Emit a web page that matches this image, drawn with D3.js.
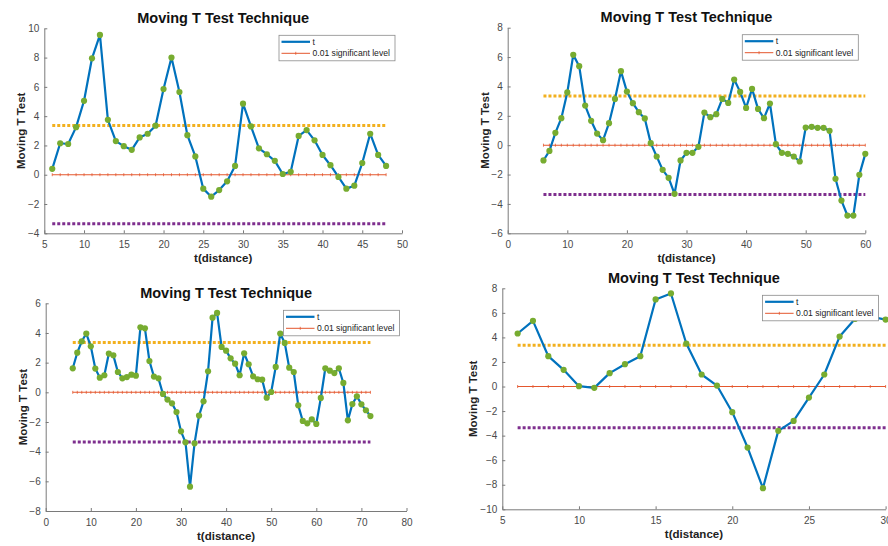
<!DOCTYPE html>
<html>
<head>
<meta charset="utf-8">
<script src="https://cdn.jsdelivr.net/npm/d3@7"></script>
<style>
  body { margin: 0; background: #fff; }
  svg { display: block; font-family: "Liberation Sans", Arial, sans-serif; }
  .axis path, .axis line { stroke: #7a7a7a; }
  .axis text { fill: #4a4a4a; font-size: 10px; }
</style>
</head>
<body>
<div id="chart"></div>
<script>
// data (t values start at x = 6 and step by 1)
const startX = 6;
const t1 = [0.4, 2.15, 2.1, 3.25, 5.05, 7.95, 9.55, 3.75, 2.3, 1.95, 1.7, 2.55, 2.8, 3.35, 5.85, 8.0, 5.65, 2.7, 1.25, -0.95,
    -1.5, -1.05, -0.45, 0.6, 4.85, 3.3, 1.8, 1.4, 0.95, 0.05, 0.2, 2.65, 3.05, 2.35, 1.35, 0.65, -0.15, -0.95, -0.75, 0.8,
    2.8, 1.35, 0.6];
const t2 = [-1.04, -0.39, 0.84, 1.84, 3.59, 6.15, 5.38, 2.7, 1.66, 0.79, 0.34, 1.5, 3.15, 5.04, 3.65, 2.86, 2.25, 1.82, 0.14, -0.77,
    -1.68, -2.22, -3.31, -1.04, -0.52, -0.52, -0.11, 2.22, 1.91, 2.11, 3.15, 2.88, 4.47, 3.63, 2.54, 3.83, 2.47, 1.84, 2.84, 0.07,
    -0.52, -0.59, -0.77, -1.11, 1.2, 1.25, 1.18, 1.18, 0.98, -2.29, -3.77, -4.79, -4.79, -2.02, -0.59];
const t3 = [1.62, 2.67, 3.44, 3.96, 3.1, 1.6, 0.99, 1.15, 2.61, 2.49, 1.37, 0.94, 1.03, 1.19, 1.12, 4.38, 4.31, 2.11, 1.06, 0.94,
    -0.11, -0.49, -0.74, -1.33, -2.63, -3.37, -6.36, -3.44, -1.57, -0.61, 1.42, 5.03, 5.35, 3.06, 2.81, 2.29, 1.93, 1.15, 2.63, 1.89,
    1.08, 0.88, 0.85, -0.36, 0.02, 1.71, 3.96, 3.33, 1.66, 1.37, -0.88, -1.93, -2.09, -1.82, -2.13, -0.38, 1.62, 1.46, 1.3, 1.62,
    0.63, -1.89, -0.79, -0.27, -0.81, -1.21, -1.6];
const t4 = [4.32, 5.35, 2.47, 1.36, 0.03, -0.11, 1.09, 1.82, 2.47, 7.09, 7.58, 3.5, 0.98, 0.08, -2.09, -4.97, -8.28, -3.61, -2.8, -0.9,
    0.98, 4.07, 5.5, 5.7, 5.45];

// critical t value (0.01 level) drawn as upper / lower bound
const critical = 3.355;

// axis ranges and ticks
const xDomains = [[5, 50], [0, 60], [0, 80], [5, 30]];
const yDomains = [[-4, 10], [-6, 8], [-8, 6], [-10, 8]];
const xTicks = [[5, 10, 15, 20, 25, 30, 35, 40, 45, 50], [0, 10, 20, 30, 40, 50, 60], [0, 10, 20, 30, 40, 50, 60, 70, 80], [5, 10, 15, 20, 25, 30]];
const yTicks = [[-4, -2, 0, 2, 4, 6, 8, 10], [-6, -4, -2, 0, 2, 4, 6, 8], [-8, -6, -4, -2, 0, 2, 4, 6], [-10, -8, -6, -4, -2, 0, 2, 4, 6, 8]];

const titleText = "Moving T Test Technique";
const xLabelText = "t(distance)";
const yLabelText = "Moving T Test";
const legendLabels = ["t", "0.01 significant level"];

// plot boxes in page pixels
const layout = [
    {left: 44.3, right: 402, top: 28.3, bottom: 233.3, yLab: 23.5},
    {left: 507.7, right: 865.3, top: 27.7, bottom: 233.3, yLab: 22.7},
    {left: 45.7, right: 406.5, top: 303.3, bottom: 511, yLab: 23},
    {left: 502.3, right: 885.6, top: 288.3, bottom: 509.3, yLab: 29.6}
];

const colors = {line: "#0072BD", marker: "#77AC30", zero: "#E4572E", upper: "#F2B01E", lower: "#7E2F8E"};

const width = 888, height = 546;

const svg = d3.select("#chart").append("svg")
    .attr("width", width)
    .attr("height", height);

svg.append("rect").attr("width", width).attr("height", height).attr("fill", "#fff");

const fmt = d => (d < 0 ? "\u2212" + Math.abs(d) : "" + d);

[t1, t2, t3, t4].forEach(function (series, i) {
    const box = layout[i];
    const data = series.map((v, j) => ({x: startX + j, t: v}));
    const xFirst = data[0].x, xLast = data[data.length - 1].x;

    const x = d3.scaleLinear().domain(xDomains[i]).range([box.left, box.right]);
    const y = d3.scaleLinear().domain(yDomains[i]).range([box.bottom, box.top]);

    const g = svg.append("g");

    // axes (MATLAB style: ticks inside, no box)
    g.append("g")
        .attr("class", "axis")
        .attr("transform", "translate(0," + box.bottom + ")")
        .call(d3.axisBottom(x).tickValues(xTicks[i]).tickFormat(fmt).tickSizeInner(-3).tickSizeOuter(0).tickPadding(7.5));

    g.append("g")
        .attr("class", "axis")
        .attr("transform", "translate(" + box.left + ",0)")
        .call(d3.axisLeft(y).tickValues(yTicks[i]).tickFormat(fmt).tickSizeInner(-3).tickSizeOuter(0).tickPadding(5));

    // title and labels
    g.append("text")
        .attr("x", (box.left + box.right) / 2)
        .attr("y", box.top - 5.5)
        .attr("text-anchor", "middle")
        .style("font-size", "14.5px")
        .style("font-weight", "bold")
        .attr("fill", "#111")
        .text(titleText);

    g.append("text")
        .attr("x", (box.left + box.right) / 2)
        .attr("y", box.bottom + 29)
        .attr("text-anchor", "middle")
        .style("font-size", "11.5px")
        .style("font-weight", "bold")
        .attr("fill", "#222")
        .text(xLabelText);

    g.append("text")
        .attr("transform", "translate(" + (box.left - box.yLab) + "," + ((box.top + box.bottom) / 2) + ") rotate(-90)")
        .attr("text-anchor", "middle")
        .attr("dy", "0.35em")
        .style("font-size", "11.5px")
        .style("font-weight", "bold")
        .attr("fill", "#222")
        .text(yLabelText);

    // significance bounds
    [[critical, colors.upper], [-critical, colors.lower]].forEach(function (b) {
        g.append("line")
            .attr("x1", x(xFirst)).attr("x2", x(xLast))
            .attr("y1", y(b[0])).attr("y2", y(b[0]))
            .attr("stroke", b[1])
            .attr("stroke-width", 3)
            .attr("stroke-dasharray", "3,2");
    });

    // zero line with small markers
    g.append("line")
        .attr("x1", x(xFirst)).attr("x2", x(xLast))
        .attr("y1", y(0)).attr("y2", y(0))
        .attr("stroke", colors.zero)
        .attr("stroke-width", 1.1);

    g.selectAll(".zmark")
        .data(data)
        .enter().append("line")
        .attr("class", "zmark")
        .attr("x1", d => x(d.x)).attr("x2", d => x(d.x))
        .attr("y1", y(0) - 1.5).attr("y2", y(0) + 1.5)
        .attr("stroke", colors.zero)
        .attr("stroke-width", 0.8);

    // t series
    g.append("path")
        .datum(data)
        .attr("fill", "none")
        .attr("stroke", colors.line)
        .attr("stroke-width", 2.2)
        .attr("stroke-linejoin", "round")
        .attr("d", d3.line().x(d => x(d.x)).y(d => y(d.t)));

    g.selectAll(".dot")
        .data(data)
        .enter().append("circle")
        .attr("class", "dot")
        .attr("cx", d => x(d.x))
        .attr("cy", d => y(d.t))
        .attr("r", 3.1)
        .attr("fill", colors.marker);

    // legend
    const lw = 116, lh = 25.5;
    const lg = g.append("g")
        .attr("transform", "translate(" + (box.right - 7 - lw) + "," + (box.top + 7) + ")");

    lg.append("rect")
        .attr("width", lw).attr("height", lh)
        .attr("fill", "#fff")
        .attr("stroke", "#8a8a8a")
        .attr("stroke-width", 0.8);

    lg.append("line")
        .attr("x1", 2.5).attr("x2", 31).attr("y1", 6.5).attr("y2", 6.5)
        .attr("stroke", colors.line).attr("stroke-width", 2.2);

    lg.append("line")
        .attr("x1", 2.5).attr("x2", 31).attr("y1", 18).attr("y2", 18)
        .attr("stroke", colors.zero).attr("stroke-width", 1);

    lg.append("line")
        .attr("x1", 16.75).attr("x2", 16.75).attr("y1", 16.5).attr("y2", 19.5)
        .attr("stroke", colors.zero).attr("stroke-width", 0.8);

    lg.selectAll(".ltext")
        .data(legendLabels)
        .enter().append("text")
        .attr("class", "ltext")
        .attr("x", 33.5)
        .attr("y", (d, k) => 6.5 + k * 11.5)
        .attr("dy", "0.35em")
        .style("font-size", "8.6px")
        .attr("fill", "#222")
        .text(d => d);
});
</script>
</body>
</html>
